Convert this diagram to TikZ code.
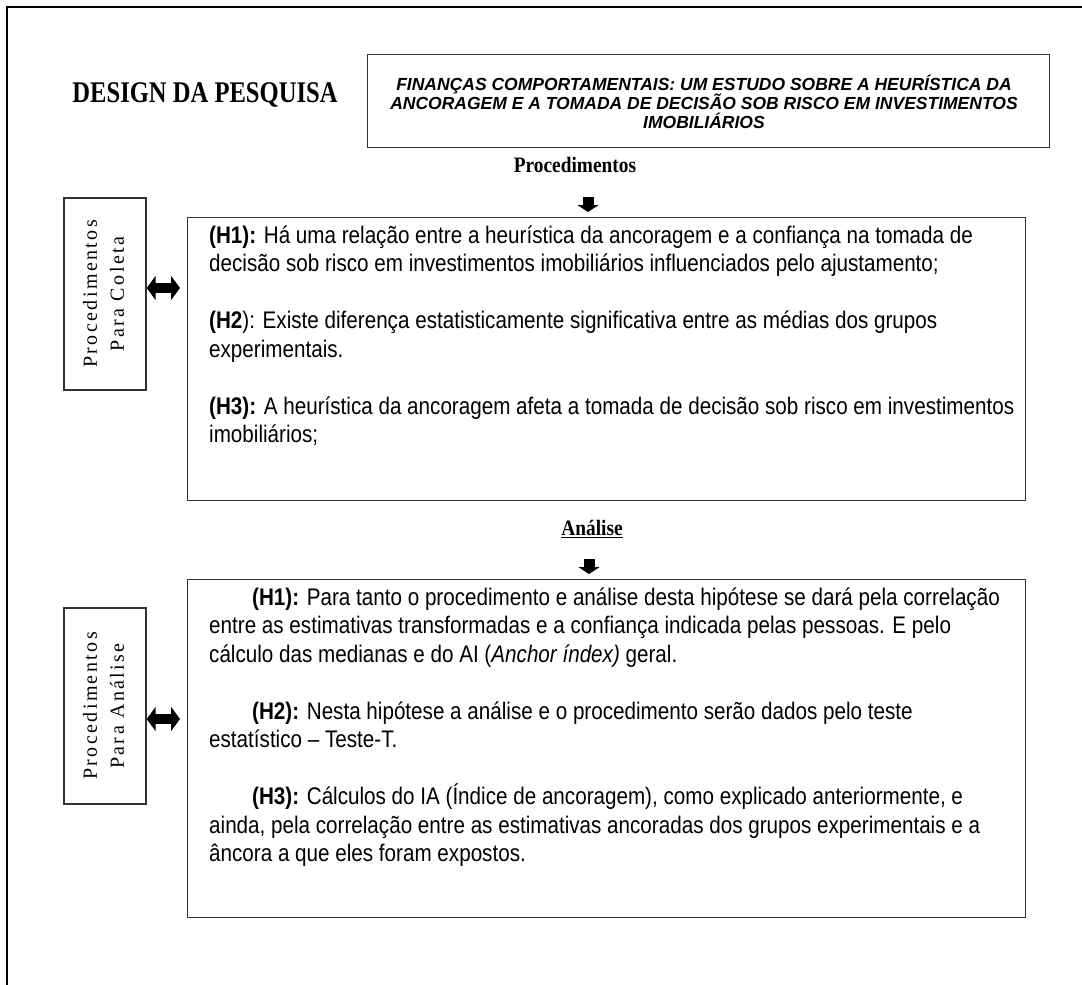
\documentclass[tikz,border=0pt]{standalone}
\usepackage{fontspec}
\usepackage{graphicx}
\usetikzlibrary{arrows.meta}
\setmainfont{Liberation Serif}
\newfontfamily\bodyf{Liberation Sans}[FakeStretch=0.86]
\newfontfamily\titlef{Liberation Sans}
\newfontfamily\headf{Liberation Serif}[FakeStretch=0.88]
\newfontfamily\designf{Liberation Serif}[FakeStretch=0.82]
\newfontfamily\vertf{Liberation Serif}[LetterSpace=12]
\tikzset{
  frameline/.style={line width=2.5pt},
  box/.style={draw=black!80, line width=1.4pt, inner sep=0pt},
  bodyline/.style={anchor=mid west, inner sep=0pt, font=\bodyf\fontsize{24}{28}\selectfont},
  titleline/.style={anchor=mid, inner sep=0pt, font=\titlef\bfseries\itshape\fontsize{17.5}{19}\selectfont},
  headlbl/.style={anchor=mid, inner sep=0pt, font=\headf\bfseries\fontsize{22}{25}\selectfont},
  vlabel/.style={box, minimum width=82pt, font=\vertf\fontsize{20}{27}\selectfont},
  dblarrow/.style={line width=10pt, {Triangle[width=24pt,length=9pt]}-{Triangle[width=24pt,length=9pt]}},
  downarrow/.style={line width=11pt, -{Triangle[width=21pt,length=7pt]}}
}
\begin{document}
\begin{tikzpicture}[x=1pt,y=-1pt]
\useasboundingbox (0,0) rectangle (1082,985);
% page frame
\draw[frameline] (7,985) -- (7,7) -- (1082,7);

% header
\node[anchor=mid, inner sep=0pt, font=\designf\bfseries\fontsize{30}{34}\selectfont] (design) at (205,100) {DESIGN DA PESQUISA};
\node[box, anchor=north west, minimum width=682pt, minimum height=93pt] (tbox) at (367,54) {};
\node[titleline] (t1) at (704,88) {FINANÇAS COMPORTAMENTAIS: UM ESTUDO SOBRE A HEURÍSTICA DA};
\node[titleline] (t2) at (704,107) {ANCORAGEM E A TOMADA DE DECISÃO SOB RISCO EM INVESTIMENTOS};
\node[titleline] (t3) at (704,126) {IMOBILIÁRIOS};

% section 1
\node[headlbl] (proc) at (575,170) {Procedimentos};
\node[box, anchor=north west, minimum width=838pt, minimum height=283pt] (b1) at (187,217) {};
\coordinate (da1) at (588,197);
\draw[downarrow, shorten >=5pt] (da1) -- (da1 |- b1.north);

\node[bodyline] (b1l1) at (209,241) {\textbf{(H1):} Há uma relação entre a heurística da ancoragem e a confiança na tomada de};
\node[bodyline] (b1l2) at (209,269.5) {decisão sob risco em investimentos imobiliários influenciados pelo ajustamento;};
\node[bodyline] (b1l3) at (209,326.5) {\textbf{(H2}): Existe diferença estatisticamente significativa entre as médias dos grupos};
\node[bodyline] (b1l4) at (209,355) {experimentais.};
\node[bodyline] (b1l5) at (209,412) {\textbf{(H3):} A heurística da ancoragem afeta a tomada de decisão sob risco em investimentos};
\node[bodyline] (b1l6) at (209,440.5) {imobiliários;};

\node[vlabel, minimum height=192pt] (lb1) at (105,294) {\rotatebox{90}{\begin{tabular}{@{}c@{}}Procedimentos\\Para Coleta\end{tabular}}};
\coordinate (arr1) at (0,288);
\draw[dblarrow, shorten >=7pt] (lb1.east |- arr1) -- (b1.west |- arr1);

% section 2
\node[headlbl] (anal) at (592,533) {\underline{Análise}};
\node[box, anchor=north west, minimum width=838pt, minimum height=338pt] (b2) at (187,579) {};
\coordinate (da2) at (589,559);
\draw[downarrow, shorten >=5pt] (da2) -- (da2 |- b2.north);

\node[bodyline] (b2l1) at (252,603) {\textbf{(H1):} Para tanto o procedimento e análise desta hipótese se dará pela correlação};
\node[bodyline] (b2l2) at (209,631.5) {entre as estimativas transformadas e a confiança indicada pelas pessoas. E pelo};
\node[bodyline] (b2l3) at (209,660) {cálculo das medianas e do AI (\textit{Anchor índex)} geral.};
\node[bodyline] (b2l4) at (252,717) {\textbf{(H2):} Nesta hipótese a análise e o procedimento serão dados pelo teste};
\node[bodyline] (b2l5) at (209,745.5) {estatístico – Teste-T.};
\node[bodyline] (b2l6) at (252,802.5) {\textbf{(H3):} Cálculos do IA (Índice de ancoragem), como explicado anteriormente, e};
\node[bodyline] (b2l7) at (209,831) {ainda, pela correlação entre as estimativas ancoradas dos grupos experimentais e a};
\node[bodyline] (b2l8) at (209,859.5) {âncora a que eles foram expostos.};

\node[vlabel, minimum height=196pt] (lb2) at (105,706) {\rotatebox{90}{\begin{tabular}{@{}c@{}}Procedimentos\\Para Análise\end{tabular}}};
\coordinate (arr2) at (0,719);
\draw[dblarrow, shorten >=7pt] (lb2.east |- arr2) -- (b2.west |- arr2);
\end{tikzpicture}
\end{document}
